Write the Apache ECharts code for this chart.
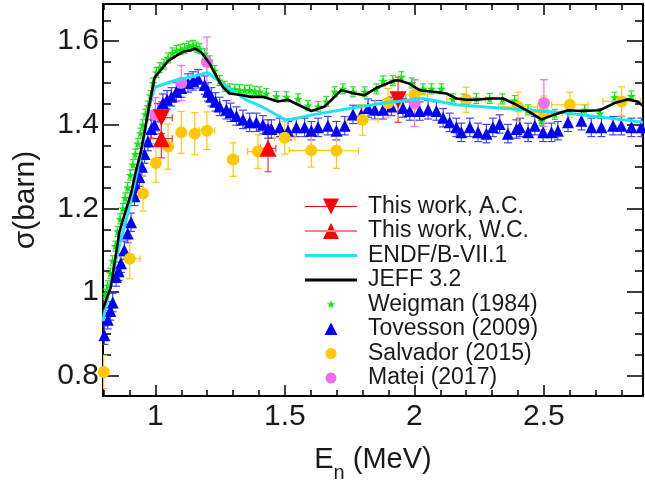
<!DOCTYPE html>
<html>
<head>
<meta charset="utf-8">
<script src="https://cdn.jsdelivr.net/npm/echarts@6/dist/echarts.min.js"></script>
<style>html,body{margin:0;padding:0;background:#fff}#chart{width:645px;height:488px}</style>
</head>
<body>
<div id="chart"></div>
<script>
// axis ticks
var xMajor = [1, 1.5, 2, 2.5];
var xMinor = [0.8, 0.9, 1.1, 1.2, 1.3, 1.4, 1.6, 1.7, 1.8, 1.9, 2.1, 2.2, 2.3, 2.4, 2.6, 2.7, 2.8];
var yMajor = [0.8, 1, 1.2, 1.4, 1.6];
var yMinor = [0.85, 0.9, 0.95, 1.05, 1.1, 1.15, 1.25, 1.3, 1.35, 1.45, 1.5, 1.55, 1.65];

// evaluations [E, sigma]
var jeff = [[0.797,0.959],[0.812,0.985],[0.828,1.012],[0.845,1.08],[0.861,1.144],[0.883,1.19],[0.906,1.236],
  [0.925,1.29],[0.944,1.336],[0.963,1.4],[0.978,1.452],[0.997,1.513],[1.023,1.533],[1.048,1.552],[1.075,1.563],
  [1.107,1.575],[1.139,1.579],[1.152,1.583],[1.178,1.573],[1.21,1.546],[1.242,1.509],[1.261,1.49],[1.287,1.475],
  [1.325,1.472],[1.364,1.467],[1.415,1.467],[1.473,1.456],[1.512,1.46],[1.551,1.448],[1.602,1.433],[1.654,1.444],
  [1.718,1.483],[1.77,1.475],[1.808,1.471],[1.859,1.49],[1.924,1.506],[1.943,1.506],[1.982,1.498],[2.02,1.483],
  [2.072,1.479],[2.124,1.475],[2.162,1.463],[2.2,1.46],[2.239,1.46],[2.291,1.463],[2.342,1.463],[2.394,1.448],
  [2.439,1.433],[2.49,1.413],[2.542,1.425],[2.593,1.435],[2.645,1.433],[2.715,1.435],[2.773,1.452],[2.825,1.461],
  [2.863,1.455],[2.883,1.445]];
var endf = [[0.797,0.93],[0.83,1.03],[0.86,1.11],[0.89,1.18],[0.92,1.26],[0.95,1.35],[0.975,1.44],[0.997,1.49],
  [1.075,1.506],[1.152,1.517],[1.2,1.525],[1.28,1.49],[1.35,1.46],[1.409,1.444],[1.45,1.43],[1.499,1.413],
  [1.525,1.413],[1.615,1.425],[1.795,1.444],[1.885,1.452],[2.033,1.463],[2.162,1.448],[2.329,1.44],[2.58,1.429],
  [2.883,1.406]];

// measurements [E, sigma]
var weigman = [[0.797,0.975],[0.807,0.995],[0.816,1.015],[0.826,1.045],[0.835,1.075],[0.845,1.11],[0.854,1.145],
  [0.864,1.175],[0.874,1.2],[0.883,1.225],[0.893,1.25],[0.903,1.28],[0.913,1.305],[0.922,1.33],[0.932,1.355],
  [0.942,1.38],[0.951,1.4],[0.961,1.425],[0.971,1.445],[0.981,1.47],[0.991,1.5],[1.004,1.525],[1.017,1.537],
  [1.033,1.545],[1.049,1.56],[1.065,1.572],[1.081,1.578],[1.097,1.58],[1.113,1.583],[1.129,1.588],[1.145,1.59],
  [1.158,1.586],[1.171,1.582],[1.19,1.57],[1.21,1.553],[1.229,1.53],[1.248,1.506],[1.268,1.492],[1.287,1.486],
  [1.306,1.485],[1.325,1.484],[1.345,1.483],[1.364,1.483],[1.384,1.48],[1.403,1.479],[1.428,1.475],[1.467,1.468],
  [1.506,1.467],[1.551,1.462],[1.589,1.446],[1.628,1.444],[1.66,1.456],[1.692,1.479],[1.724,1.486],[1.763,1.479],
  [1.808,1.479],[1.853,1.486],[1.879,1.505],[1.917,1.506],[1.95,1.515],[1.99,1.5],[2.033,1.486],[2.066,1.486],
  [2.104,1.486],[2.149,1.462],[2.19,1.462],[2.239,1.463],[2.291,1.463],[2.34,1.462],[2.387,1.458],[2.439,1.436],
  [2.49,1.41],[2.542,1.425],[2.6,1.437],[2.658,1.436],[2.716,1.427],[2.773,1.466],[2.838,1.469]];
var weigmanErr = 0.012;

var tovesson = [[0.803,0.897],[0.816,0.934],[0.826,0.955],[0.835,0.975],[0.848,1.036],[0.858,1.05],[0.867,1.069],
  [0.88,1.1],[0.893,1.14],[0.906,1.167],[0.919,1.229],[0.929,1.25],[0.938,1.275],[0.948,1.3],[0.958,1.33],
  [0.971,1.36],[0.984,1.39],[0.996,1.4],[1.01,1.429],[1.029,1.452],[1.045,1.46],[1.062,1.467],[1.081,1.479],
  [1.1,1.488],[1.126,1.5],[1.145,1.505],[1.165,1.51],[1.19,1.495],[1.203,1.479],[1.216,1.467],[1.232,1.455],
  [1.248,1.444],[1.274,1.436],[1.29,1.43],[1.313,1.421],[1.338,1.413],[1.364,1.406],[1.39,1.406],[1.415,1.4],
  [1.435,1.39],[1.448,1.39],[1.48,1.394],[1.512,1.386],[1.544,1.394],[1.576,1.394],[1.602,1.386],[1.628,1.394],
  [1.666,1.398],[1.699,1.386],[1.731,1.398],[1.763,1.425],[1.795,1.425],[1.821,1.44],[1.847,1.436],[1.879,1.436],
  [1.911,1.444],[1.956,1.44],[1.982,1.433],[2.02,1.433],[2.053,1.436],[2.085,1.433],[2.111,1.417],[2.136,1.406],
  [2.162,1.394],[2.181,1.382],[2.214,1.394],[2.246,1.382],[2.278,1.379],[2.303,1.394],[2.329,1.402],[2.361,1.379],
  [2.394,1.39],[2.407,1.394],[2.439,1.382],[2.465,1.398],[2.497,1.382],[2.529,1.382],[2.554,1.386],[2.593,1.406],
  [2.645,1.41],[2.683,1.394],[2.722,1.394],[2.767,1.398],[2.799,1.398],[2.838,1.394],[2.876,1.394]];
var tovessonErr = 0.022;

// [E, sigma, dE, dSigma]
var salvador = [[0.8,0.809,0.02,0.04],[0.901,1.08,0.04,0.048],[0.952,1.236,0.01,0.042],[1.002,1.309,0.01,0.046],
  [1.049,1.348,0.01,0.054],[1.1,1.382,0.01,0.05],[1.152,1.379,0.01,0.05],[1.199,1.386,0.03,0.045],
  [1.3,1.317,0.02,0.04],[1.396,1.336,0.04,0.04],[1.499,1.369,0.04,0.039],[1.602,1.339,0.085,0.04],
  [1.699,1.338,0.085,0.042],[1.8,1.412,0.06,0.037],[1.898,1.452,0.05,0.035],[2.001,1.472,0.05,0.035],
  [2.2,1.46,0.075,0.03],[2.4,1.443,0.075,0.035],[2.5,1.429,0.07,0.04],[2.6,1.448,0.07,0.03],[2.8,1.456,0.072,0.035]];
var matei = [[1.0,1.425,0,0.04],[1.1,1.5,0,0.042],[1.199,1.55,0,0.06],[2.001,1.452,0,0.056],[2.5,1.452,0,0.056]];
var workAC = [[1.023,1.417,0.042,0.038],[1.937,1.46,0.03,0.054]];
var workWC = [[1.023,1.367,0.042,0.046],[1.435,1.344,0.03,0.056]];

var FONT = "'Liberation Sans', Arial, Helvetica, sans-serif";
var XMIN = 0.7977, XMAX = 2.8826, YMIN = 0.7513, YMAX = 1.689;

function withErr(list, err) {
  return list.map(function (p) { return [p[0], p[1], 0, err]; });
}
function points(list) {
  return list.map(function (p) { return [p[0], p[1]]; });
}

function errBars(color, cap, width) {
  return function (params, api) {
    var x = api.value(0), y = api.value(1), dx = api.value(2), dy = api.value(3);
    var c = api.coord([x, y]);
    var st = { stroke: color, lineWidth: width };
    var kids = [];
    if (dy > 0) {
      var t = api.coord([x, y + dy])[1], b = api.coord([x, y - dy])[1];
      kids.push({ type: 'line', shape: { x1: c[0], y1: t, x2: c[0], y2: b }, style: st });
      kids.push({ type: 'line', shape: { x1: c[0] - cap, y1: t, x2: c[0] + cap, y2: t }, style: st });
      kids.push({ type: 'line', shape: { x1: c[0] - cap, y1: b, x2: c[0] + cap, y2: b }, style: st });
    }
    if (dx > 0) {
      var l = api.coord([x - dx, y])[0], r = api.coord([x + dx, y])[0];
      kids.push({ type: 'line', shape: { x1: l, y1: c[1], x2: r, y2: c[1] }, style: st });
      kids.push({ type: 'line', shape: { x1: l, y1: c[1] - cap, x2: l, y2: c[1] + cap }, style: st });
      kids.push({ type: 'line', shape: { x1: r, y1: c[1] - cap, x2: r, y2: c[1] + cap }, style: st });
    }
    return { type: 'group', children: kids };
  };
}

function errSeries(name, data, color, cap) {
  return { name: name, type: 'custom', renderItem: errBars(color, cap, 1.2), data: data,
    clip: true, silent: true, encode: { x: 0, y: 1 } };
}

var STAR = 'path://M50,0 L61,35 L98,35 L68,57 L79,91 L50,70 L21,91 L32,57 L2,35 L39,35 Z';
// legend icons, all in a 52x20 box (leading moves fix the box)
var BOX = 'path://M0,0 M52,20 ';
var ICON_DOWN = BOX + 'M0,9.5 H52 V10.5 H0 Z M18,2 H34 L26,18 Z';
var ICON_UP = BOX + 'M0,9.5 H52 V10.5 H0 Z M18,18 H34 L26,2 Z';
var ICON_BAR = BOX + 'M0,8.5 H52 V11.5 H0 Z';
var ICON_STAR = BOX + 'M26,5.5 L27,8.65 L30.3,8.65 L27.6,10.6 L28.6,13.7 L26,11.8 L23.4,13.7 L24.4,10.6 L21.7,8.65 L25,8.65 Z';
var ICON_TRI = BOX + 'M19.5,16 H32.5 L26,3.5 Z';
var ICON_DOT = BOX + 'M20.5,10 A5.5,5.5 0 1 0 31.5,10 A5.5,5.5 0 1 0 20.5,10 Z';

function xAxisDef(pos, major) {
  return {
    type: 'value', min: XMIN, max: XMAX, position: pos,
    axisLine: { show: major, lineStyle: { color: '#000', width: 2 } },
    axisTick: { show: true, inside: true, length: major ? 11 : 6,
      customValues: major ? xMajor : xMinor, lineStyle: { color: '#000', width: 1.5 } },
    axisLabel: { show: major && pos === 'bottom', customValues: xMajor, fontFamily: FONT, fontSize: 30,
      color: '#1a1a1a', margin: 6 },
    splitLine: { show: false }
  };
}
function yAxisDef(pos, major) {
  return {
    type: 'value', min: YMIN, max: YMAX, position: pos,
    axisLine: { show: major, lineStyle: { color: '#000', width: 2 } },
    axisTick: { show: true, inside: true, length: major ? 16 : 8,
      customValues: major ? yMajor : yMinor, lineStyle: { color: '#000', width: 1.5 } },
    axisLabel: { show: major && pos === 'left', customValues: yMajor, fontFamily: FONT, fontSize: 30,
      color: '#1a1a1a', margin: 4 },
    splitLine: { show: false }
  };
}

var xAxes = [xAxisDef('bottom', true), xAxisDef('bottom', false), xAxisDef('top', true), xAxisDef('top', false)];
xAxes[0].name = '{e|E}{s|n}{e| (MeV)}';
xAxes[0].nameLocation = 'middle';
xAxes[0].nameGap = 38;
xAxes[0].nameTextStyle = { fontFamily: FONT, color: '#1a1a1a',
  rich: { e: { fontFamily: FONT, fontSize: 29, color: '#1a1a1a', lineHeight: 30 },
          s: { fontFamily: FONT, fontSize: 20, color: '#1a1a1a', lineHeight: 30, padding: [26, 0, 0, 0] } } };
var yAxes = [yAxisDef('left', true), yAxisDef('left', false), yAxisDef('right', true), yAxisDef('right', false)];
yAxes[0].name = 'σ(barn)';
yAxes[0].nameLocation = 'middle';
yAxes[0].nameGap = 62;
yAxes[0].nameTextStyle = { fontFamily: FONT, fontSize: 30, color: '#1a1a1a' };

var option = {
  animation: false,
  backgroundColor: '#fff',
  grid: { left: 103, right: 2, top: 4, bottom: 78, containLabel: false },
  xAxis: xAxes,
  yAxis: yAxes,
  legend: {
    orient: 'vertical', left: 305, top: 195, itemWidth: 52, itemHeight: 20, itemGap: 1.5,
    padding: 0, selectedMode: false,
    textStyle: { fontFamily: FONT, fontSize: 23, color: '#1a1a1a', lineHeight: 20, padding: [0, 0, 0, 6] },
    data: [
      { name: 'This work, A.C.', icon: ICON_DOWN, itemStyle: { color: '#ff0000' } },
      { name: 'This work, W.C.', icon: ICON_UP, itemStyle: { color: '#ff0000' } },
      { name: 'ENDF/B-VII.1', icon: ICON_BAR, itemStyle: { color: '#1ee3f2' } },
      { name: 'JEFF 3.2', icon: ICON_BAR, itemStyle: { color: '#000000' } },
      { name: 'Weigman (1984)', icon: ICON_STAR, itemStyle: { color: '#00ee00' } },
      { name: 'Tovesson (2009)', icon: ICON_TRI, itemStyle: { color: '#0000ff' } },
      { name: 'Salvador (2015)', icon: ICON_DOT, itemStyle: { color: '#ffc800' } },
      { name: 'Matei (2017)', icon: ICON_DOT, itemStyle: { color: '#f26cf2' } }
    ]
  },
  series: [
    errSeries('weigman err', withErr(weigman, weigmanErr), '#33dd33', 3),
    { name: 'Weigman (1984)', type: 'scatter', data: weigman, symbol: STAR, symbolSize: 9,
      itemStyle: { color: '#00ee00', opacity: 1 } },
    errSeries('tovesson err', withErr(tovesson, tovessonErr), '#4444ff', 4),
    { name: 'Tovesson (2009)', type: 'scatter', data: tovesson, symbol: 'triangle', symbolSize: 12,
      itemStyle: { color: '#0000ff', opacity: 1 } },
    { name: 'ENDF/B-VII.1', type: 'line', data: endf, symbol: 'none', smooth: false,
      lineStyle: { color: '#1ee3f2', width: 3 }, itemStyle: { color: '#1ee3f2' } },
    { name: 'JEFF 3.2', type: 'line', data: jeff, symbol: 'none', smooth: false,
      lineStyle: { color: '#000', width: 2.6 }, itemStyle: { color: '#000' } },
    errSeries('salvador err', salvador, '#ffc800', 3.5),
    { name: 'Salvador (2015)', type: 'scatter', data: points(salvador),
      symbol: 'circle', symbolSize: 12, itemStyle: { color: '#ffc800', opacity: 1 } },
    errSeries('matei err', matei, '#f26cf2', 4),
    { name: 'Matei (2017)', type: 'scatter', data: points(matei),
      symbol: 'circle', symbolSize: 12, itemStyle: { color: '#f26cf2', opacity: 1 } },
    errSeries('wc err', workWC, '#ff3030', 3.5),
    { name: 'This work, W.C.', type: 'scatter', data: points(workWC),
      symbol: 'triangle', symbolSize: 17, itemStyle: { color: '#ff0000', opacity: 1 } },
    errSeries('ac err', workAC, '#ff3030', 3.5),
    { name: 'This work, A.C.', type: 'scatter', data: points(workAC),
      symbol: 'triangle', symbolRotate: 180, symbolSize: 17, itemStyle: { color: '#ff0000', opacity: 1 } }
  ]
};

var myChart = echarts.init(document.getElementById('chart'));
myChart.setOption(option);
</script>
</body>
</html>
